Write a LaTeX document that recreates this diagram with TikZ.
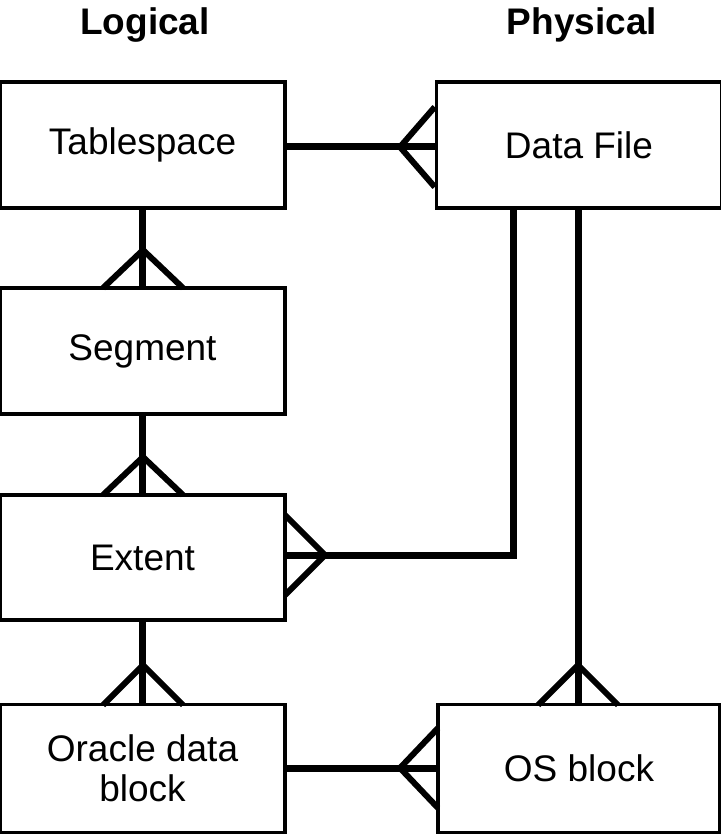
\documentclass[tikz,border=0pt]{standalone}
\usepackage{fontspec}
\setmainfont{Liberation Sans}
\begin{document}
\begin{tikzpicture}[x=1pt,y=-1pt,
 box/.style={draw,line width=3.5pt,fill=white,inner sep=0pt,align=center,font=\fontsize{37}{40}\selectfont},
 hd/.style={font=\bfseries\fontsize{37}{40}\selectfont},
 con/.style={line width=7pt},
 ft/.style={line width=6pt}]
\useasboundingbox (0,0) rectangle (720,834);
\node[hd] (hl) at (145,25) {Logical};
\node[hd] (hp) at (582,25) {Physical};
\node[box,minimum width=285pt,minimum height=126pt] (ts) at (142.5,145) {Tablespace};
\node[box,minimum width=285pt,minimum height=126pt] (df) at (579,145) {Data File};
\node[box,minimum width=285pt,minimum height=126pt] (sg) at (142.5,351) {Segment};
\node[box,minimum width=285pt,minimum height=125pt] (ex) at (142.5,557.5) {Extent};
\node[box,minimum width=285pt,minimum height=128pt] (od) at (142.5,768.5) {Oracle data\\block};
\node[box,minimum width=282pt,minimum height=128pt] (os) at (579,768.5) {OS block};
% tablespace - data file
\draw[con] (ts.east |- 0,147) -- (df.west |- 0,147);
\draw[ft] (df.west |- 0,107) -- (400,147) -- (df.west |- 0,187);
% tablespace - segment
\draw[con] (ts.south) -- (sg.north);
\draw[ft] (103,288) -- (143,250) -- (183,288);
% segment - extent
\draw[con] (sg.south) -- (ex.north);
\draw[ft] (103,495) -- (143,457) -- (183,495);
% extent - oracle
\draw[con] (ex.south) -- (od.north);
\draw[ft] (103,705) -- (143,665) -- (183,705);
% data file - extent
\draw[con] (df.south -| 513,0) -- (513,555) -- (ex.east |- 0,555);
\draw[ft] (285,515) -- (325,555) -- (285,595);
% data file - os block
\draw[con] (df.south -| 578,0) -- (os.north -| 578,0);
\draw[ft] (538,705) -- (578,665) -- (618,705);
% oracle - os
\draw[con] (od.east |- 0,768) -- (os.west |- 0,768);
\draw[ft] (438,728) -- (400,768) -- (438,808);
\end{tikzpicture}
\end{document}
